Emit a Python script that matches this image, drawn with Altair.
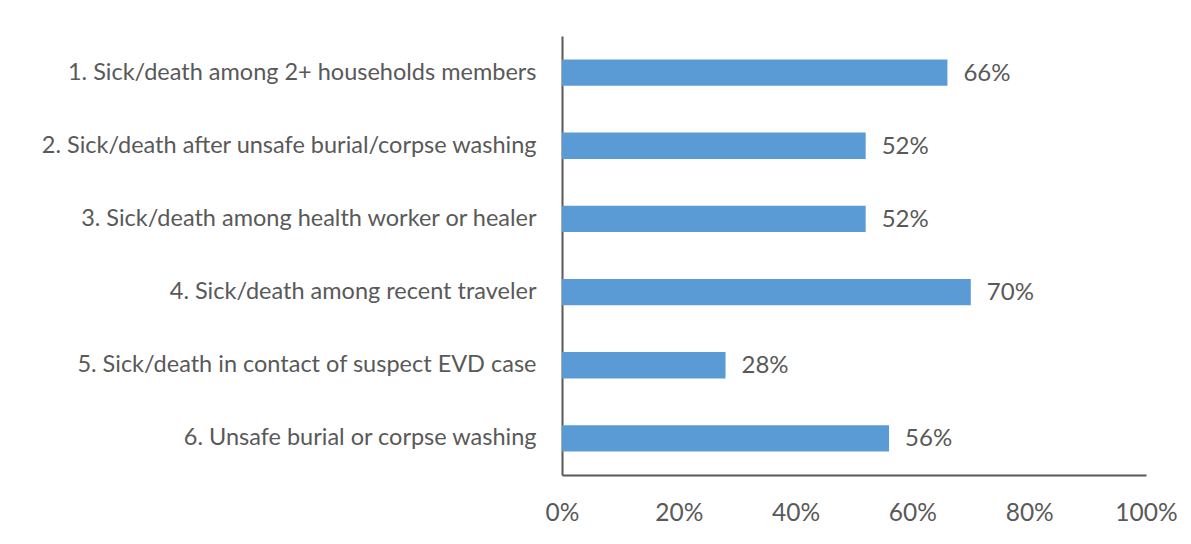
import altair as alt
import pandas as pd

categories = [
    "1. Sick/death among 2+ households members",
    "2. Sick/death after unsafe burial/corpse washing",
    "3. Sick/death among health worker or healer",
    "4. Sick/death among recent traveler",
    "5. Sick/death in contact of suspect EVD case",
    "6. Unsafe burial or corpse washing",
]
values = [0.66, 0.52, 0.52, 0.70, 0.28, 0.56]
labels = ["66%", "52%", "52%", "70%", "28%", "56%"]

df = pd.DataFrame({"cat": categories, "val": values, "lab": labels})

FONT = "Lato"
GRAY = "#595959"

base = alt.Chart(df).encode(
    y=alt.Y(
        "cat:N",
        sort=categories,
        title=None,
        scale=alt.Scale(paddingInner=0.64, paddingOuter=0.32),
        axis=alt.Axis(
            labelFont=FONT, labelFontSize=23.5, labelColor=GRAY,
            labelPadding=26, ticks=False, domainColor=GRAY, domainWidth=2,
            labelLimit=700,
        ),
    ),
    x=alt.X(
        "val:Q",
        title=None,
        scale=alt.Scale(domain=[0, 1]),
        axis=alt.Axis(
            format="%", values=[0, 0.2, 0.4, 0.6, 0.8, 1.0],
            labelFont=FONT, labelFontSize=24.5, labelColor=GRAY,
            labelPadding=26, ticks=False, grid=False, labelFlush=False,
            domainColor=GRAY, domainWidth=2,
        ),
    ),
)

bars = base.mark_bar(color="#5b9bd5")
text = base.mark_text(
    align="left", baseline="middle", dx=16, dy=1,
    font=FONT, fontSize=24, color=GRAY,
).encode(text="lab:N")

chart = (
    (bars + text)
    .properties(
        width=584, height=439,
        background="white",
        autosize=alt.AutoSizeParams(type="none"),
        padding={"left": 554, "top": 28, "right": 36, "bottom": 55},
    )
    .configure_view(strokeWidth=0)
)

chart.save("out.html", embed_options={"renderer": "svg", "actions": False})
